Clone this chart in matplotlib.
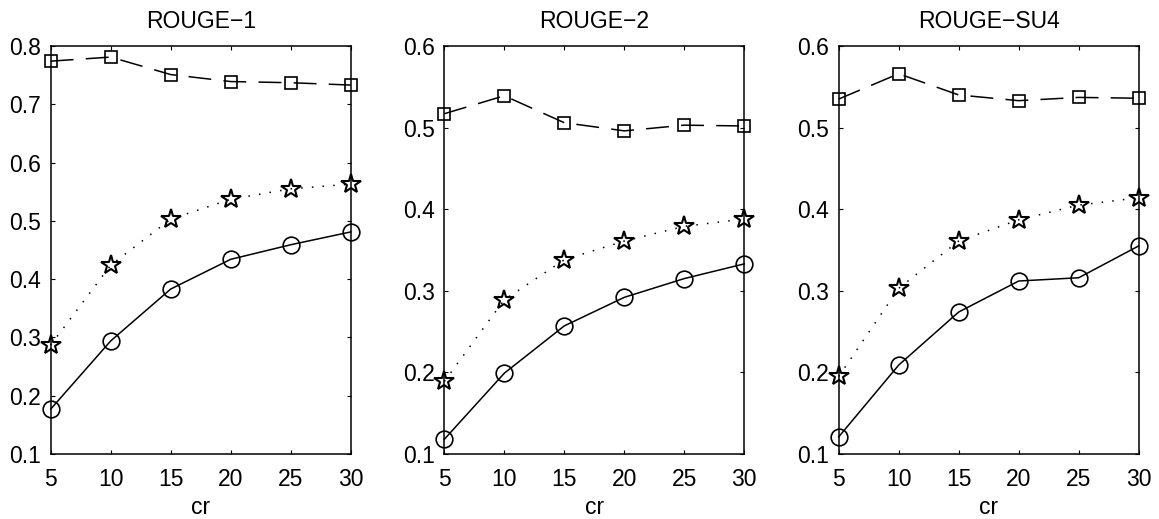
import matplotlib.pyplot as plt

plt.rcParams['font.family'] = ['Liberation Sans', 'DejaVu Sans']

cr = [5, 10, 15, 20, 25, 30]
titles = ["ROUGE\u22121", "ROUGE\u22122", "ROUGE\u2212SU4"]

# square / dashed series
sq_r1 = [0.774, 0.781, 0.751, 0.739, 0.737, 0.733]
sq_r2 = [0.517, 0.539, 0.506, 0.496, 0.503, 0.502]
sq_su4 = [0.535, 0.566, 0.540, 0.533, 0.537, 0.536]

# star / dotted series
st_r1 = [0.287, 0.424, 0.503, 0.537, 0.555, 0.563]
st_r2 = [0.189, 0.289, 0.338, 0.361, 0.379, 0.388]
st_su4 = [0.195, 0.303, 0.361, 0.387, 0.405, 0.414]

# circle / solid series
ci_r1 = [0.177, 0.294, 0.383, 0.434, 0.459, 0.481]
ci_r2 = [0.118, 0.199, 0.257, 0.292, 0.315, 0.333]
ci_su4 = [0.121, 0.209, 0.274, 0.312, 0.316, 0.355]

ylims = [(0.1, 0.8), (0.1, 0.6), (0.1, 0.6)]
squares = [sq_r1, sq_r2, sq_su4]
stars = [st_r1, st_r2, st_su4]
circles = [ci_r1, ci_r2, ci_su4]

fig = plt.figure(figsize=(11.59, 5.19), dpi=100)
lefts = [50.7, 444.3, 838.7]
W, H = 1159, 519
for k in range(3):
    ax = fig.add_axes([lefts[k] / W, (H - 454) / H, 300 / W, 408 / H])
    ax.plot(cr, squares[k], color='k', lw=1.1, dashes=(15, 8),
            marker='s', ms=9, mfc='none', mec='k', mew=1.2, clip_on=False)
    ax.plot(cr, stars[k], color='k', lw=1.1, linestyle=(0, (1, 6)),
            marker='*', ms=15, mfc='none', mec='k', mew=1.5, clip_on=False)
    ax.plot(cr, circles[k], color='k', lw=1.1, linestyle='-',
            marker='o', ms=12, mfc='none', mec='k', mew=1.2, clip_on=False)
    ax.set_xlim(5, 30)
    ax.set_ylim(*ylims[k])
    ax.set_xticks(cr)
    ax.tick_params(direction='in', top=True, right=True, labelsize=16.5,
                   length=3, width=0.8)
    ax.tick_params(axis='x', pad=10)
    ax.tick_params(axis='y', pad=7)
    for s in ax.spines.values():
        s.set_linewidth(1.1)
    ax.set_title(titles[k], fontsize=16.5, pad=13)
    ax.set_xlabel("cr", fontsize=16.5, labelpad=4)

fig.savefig("out.png", dpi=100)
